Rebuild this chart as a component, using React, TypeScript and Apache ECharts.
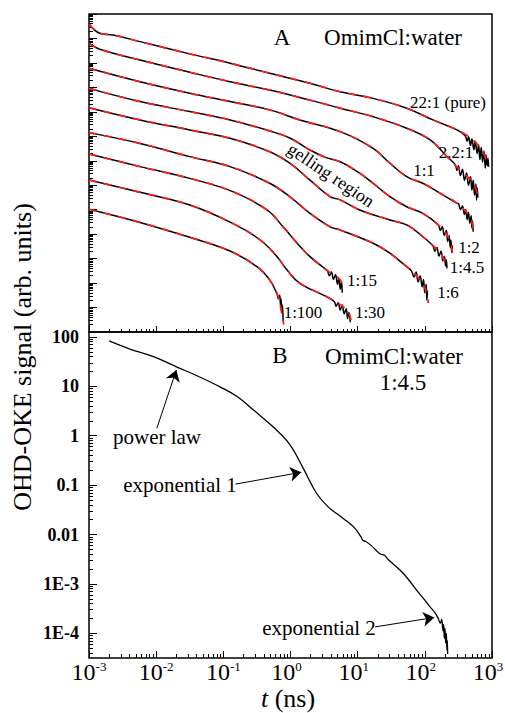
import React, { useEffect, useRef } from 'react';
import * as echarts from 'echarts';

// ---------- data (log10 units) ----------
const xTickExps = [-3, -2, -1, 0, 1, 2, 3];
const yTickExpsB = [2, 1, 0, -1, -2, -3, -4];
const yTickLabelsB = ['100', '10', '1', '0.1', '0.01', '1E-3', '1E-4'];

const sampleLabels = ['22:1 (pure)', '2.2:1', '1:1', '1:2', '1:4.5', '1:6', '1:15', '1:30', '1:100'];

// Panel A: fitted curves  [log10 t (ns), log10 signal (offset, arb. units)]
const fit_22_1 = [[-3.0, 12.59], [-2.84, 12.21], [-2.64, 12.14], [-2.24, 11.87], [-1.5, 11.37], [-0.9, 10.99], [-0.31, 10.58], [0.29, 10.17], [0.74, 9.82], [1.23, 9.55], [1.73, 9.15], [2.12, 8.67], [2.48, 8.26], [2.72, 7.85], [2.87, 7.31], [2.95, 6.8]];
const fit_2_2_1 = [[-3.0, 11.8], [-2.84, 11.56], [-2.24, 11.12], [-1.5, 10.62], [-0.9, 10.23], [-0.31, 9.89], [0.29, 9.48], [0.74, 9.15], [1.23, 8.8], [1.73, 8.33], [2.08, 7.85], [2.33, 7.17], [2.52, 6.63], [2.72, 6.08], [2.79, 5.53]];
const fit_1_1 = [[-3.0, 10.78], [-2.24, 10.23], [-1.5, 9.76], [-0.9, 9.42], [-0.31, 9.08], [0.14, 8.67], [0.74, 8.19], [1.23, 7.51], [1.48, 6.9], [1.73, 6.35], [1.97, 6.08], [2.23, 5.67], [2.48, 5.26], [2.67, 4.71], [2.72, 4.17]];
const fit_1_2 = [[-3.0, 9.96], [-2.24, 9.42], [-1.5, 9.01], [-0.9, 8.67], [-0.31, 8.22], [-0.01, 7.93], [0.29, 7.44], [0.51, 7.15], [0.74, 6.96], [1.03, 6.49], [1.23, 6.08], [1.48, 5.53], [1.73, 5.12], [1.97, 4.85], [2.23, 4.3], [2.37, 3.76], [2.41, 3.23]];
const fit_1_4_5 = [[-3.0, 9.17], [-2.24, 8.67], [-1.5, 8.26], [-0.9, 7.92], [-0.31, 7.37], [-0.01, 6.9], [0.29, 6.21], [0.59, 5.53], [0.74, 5.4], [1.03, 4.99], [1.48, 4.58], [1.73, 4.38], [1.97, 3.9], [2.23, 3.22], [2.33, 2.67]];
const fit_1_6 = [[-3.0, 8.15], [-2.24, 7.71], [-1.5, 7.17], [-0.9, 6.76], [-0.31, 6.08], [-0.01, 5.53], [0.29, 4.85], [0.59, 4.3], [0.74, 4.17], [1.23, 3.63], [1.48, 3.22], [1.73, 2.67], [1.93, 2.13], [2.03, 1.58], [2.05, 1.19]];
const fit_1_15 = [[-3.0, 7.28], [-2.24, 6.76], [-1.5, 6.28], [-0.86, 5.74], [-0.35, 4.99], [-0.11, 4.3], [0.1, 3.63], [0.29, 3.08], [0.54, 2.53], [0.74, 2.13], [0.78, 1.72]];
const fit_1_30 = [[-3.0, 6.21], [-2.24, 5.71], [-1.5, 5.19], [-0.86, 4.44], [-0.45, 3.76], [-0.2, 3.08], [-0.05, 2.53], [0.14, 1.99], [0.54, 1.44], [0.84, 0.9], [0.9, 0.49]];
const fit_1_100 = [[-3.0, 5.02], [-2.24, 4.48], [-1.5, 3.87], [-0.9, 3.31], [-0.5, 2.67], [-0.31, 2.13], [-0.19, 1.51], [-0.14, 0.9], [-0.1, 0.3]];

// Panel A: noisy long-time tails of the measured data
const tail_22_1 = [[2.6, 8.02], [2.63, 7.8], [2.65, 7.98], [2.68, 7.62], [2.7, 7.9], [2.73, 7.45], [2.75, 7.8], [2.78, 7.3], [2.8, 7.65], [2.82, 7.05], [2.84, 7.55], [2.86, 6.95], [2.88, 7.4], [2.9, 6.7], [2.91, 7.25], [2.93, 6.8], [2.94, 7.1], [2.95, 6.75]];
const tail_2_2_1 = [[2.45, 6.85], [2.48, 6.6], [2.5, 6.8], [2.53, 6.4], [2.56, 6.65], [2.59, 6.2], [2.62, 6.5], [2.65, 6.0], [2.68, 6.35], [2.7, 5.8], [2.72, 6.2], [2.74, 5.6], [2.76, 6.05], [2.77, 5.4], [2.78, 5.9], [2.79, 5.5]];
const tail_1_1 = [[2.5, 5.25], [2.53, 5.0], [2.56, 5.15], [2.59, 4.8], [2.61, 5.0], [2.63, 4.6], [2.65, 4.9], [2.67, 4.45], [2.69, 4.75], [2.7, 4.25], [2.71, 4.55], [2.72, 4.1]];
const tail_1_2 = [[2.2, 4.38], [2.23, 4.15], [2.26, 4.3], [2.29, 3.95], [2.32, 4.15], [2.34, 3.7], [2.36, 3.95], [2.38, 3.45], [2.39, 3.75], [2.4, 3.25], [2.41, 3.55]];
const tail_1_4_5 = [[2.12, 3.52], [2.15, 3.3], [2.18, 3.45], [2.21, 3.1], [2.24, 3.3], [2.27, 2.9], [2.29, 3.1], [2.31, 2.7], [2.32, 2.95], [2.33, 2.6]];
const tail_1_6 = [[1.8, 2.5], [1.84, 2.25], [1.87, 2.45], [1.9, 2.05], [1.93, 2.3], [1.96, 1.85], [1.98, 2.15], [2.0, 1.6], [2.02, 1.95], [2.03, 1.3], [2.04, 1.7]];
const tail_1_15 = [[0.55, 2.52], [0.58, 2.3], [0.61, 2.45], [0.64, 2.15], [0.67, 2.35], [0.7, 1.95], [0.72, 2.2], [0.74, 1.75], [0.76, 2.05], [0.77, 1.6]];
const tail_1_30 = [[0.65, 1.25], [0.68, 1.05], [0.71, 1.2], [0.74, 0.9], [0.77, 1.1], [0.8, 0.75], [0.83, 0.95], [0.85, 0.55], [0.87, 0.8], [0.89, 0.4]];
const tail_1_100 = [[-0.2, 1.55], [-0.18, 1.35], [-0.16, 1.5], [-0.15, 1.1], [-0.14, 1.35], [-0.13, 0.8], [-0.12, 1.1], [-0.11, 0.45]];

const fitsA = [fit_22_1, fit_2_2_1, fit_1_1, fit_1_2, fit_1_4_5, fit_1_6, fit_1_15, fit_1_30, fit_1_100];
const tailsA = [tail_22_1, tail_2_2_1, tail_1_1, tail_1_2, tail_1_4_5, tail_1_6, tail_1_15, tail_1_30, tail_1_100];

// Panel B: OmimCl:water 1:4.5  [log10 t (ns), log10 signal]
const dataB_1_4_5 = [[-2.7, 1.92], [-2.4, 1.76], [-2.04, 1.6], [-1.69, 1.39], [-1.4, 1.22], [-1.05, 0.99], [-0.8, 0.8], [-0.55, 0.52], [-0.26, 0.18], [-0.02, -0.16], [0.19, -0.66], [0.39, -1.17], [0.56, -1.44], [0.79, -1.68], [0.95, -1.86], [1.05, -2.05], [1.08, -2.12], [1.12, -2.14], [1.2, -2.22], [1.33, -2.39], [1.4, -2.42], [1.45, -2.5], [1.63, -2.72], [1.75, -2.9], [1.88, -3.13], [2.0, -3.33], [2.08, -3.47], [2.15, -3.58], [2.2, -3.7], [2.23, -3.8], [2.25, -3.72], [2.27, -3.95], [2.28, -3.82], [2.29, -4.1], [2.3, -3.9], [2.31, -4.2], [2.32, -4.0], [2.33, -4.35], [2.335, -4.15], [2.34, -4.42]];

// Panel B arrows [from, to] in [log10 t, log10 signal]
const arrowPowerLaw = [[-1.99, 0.15], [-1.7, 1.33]];
const arrowExp1 = [[-0.82, -0.98], [0.16, -0.74]];
const arrowExp2 = [[1.26, -3.87], [2.14, -3.68]];

// ---------- helpers ----------
const FONT = 'Liberation Serif';

function majorTicks(lo: number, hi: number): number[] {
  const out: number[] = [];
  for (let d = Math.ceil(lo); d <= Math.floor(hi); d++) out.push(d);
  return out;
}
function minorTicks(lo: number, hi: number): number[] {
  const out: number[] = [];
  for (let d = Math.floor(lo) - 1; d <= Math.ceil(hi); d++) {
    for (let k = 2; k <= 9; k++) {
      const v = d + Math.log10(k);
      if (v > lo + 1e-6 && v < hi - 1e-6) out.push(+v.toFixed(5));
    }
  }
  return out;
}

function axis(dim: 'x' | 'y', gridIndex: number, min: number, max: number, ticks: number[], len: number, label?: any) {
  return {
    type: 'value',
    gridIndex,
    position: dim === 'x' ? 'bottom' : 'left',
    min,
    max,
    axisLine: { show: false, onZero: false },
    splitLine: { show: false },
    axisTick: { show: true, inside: true, length: len, customValues: ticks, lineStyle: { color: '#000', width: 1 } },
    axisLabel: label ? label : { show: false },
  };
}

function txt(text: string, x: number, y: number, size: number, extra: any = {}, style: any = {}) {
  return {
    type: 'text',
    x,
    y,
    silent: true,
    ...extra,
    style: {
      text,
      fill: '#000',
      fontSize: size,
      fontFamily: FONT,
      align: 'center',
      verticalAlign: 'middle',
      textAlign: 'center',
      textVerticalAlign: 'middle',
      ...style,
    },
  };
}

const sampleLabelPos = [
  [448, 102], [456, 152], [424, 170], [469, 247], [467, 267], [448, 292], [362, 280], [370, 312], [303, 312],
];

export default function App() {
  const ref = useRef<HTMLDivElement>(null);
  useEffect(() => {
    if (!ref.current) return;
    const chart = echarts.init(ref.current, undefined, { renderer: 'svg' });

    const series: any[] = [];
    fitsA.forEach((fit, i) => {
      const tail = tailsA[i];
      const body = fit.filter((p) => p[0] < tail[0][0]);
      series.push({
        type: 'line', xAxisIndex: 0, yAxisIndex: 0, data: body.concat(tail),
        symbol: 'none', showSymbol: false, smooth: 0.4, silent: true,
        lineStyle: { color: '#000', width: 1.5 }, z: 2,
      });
    });
    fitsA.forEach((fit) => {
      series.push({
        type: 'line', xAxisIndex: 0, yAxisIndex: 0, data: fit,
        symbol: 'none', showSymbol: false, smooth: 0.4, silent: true,
        lineStyle: { color: '#ff1a1a', width: 1.7, type: [8, 7] }, z: 3,
      });
    });
    const arrows = [arrowPowerLaw, arrowExp1, arrowExp2];
    series.push({
      type: 'line', xAxisIndex: 2, yAxisIndex: 2, data: dataB_1_4_5,
      symbol: 'none', showSymbol: false, smooth: 0.4, silent: true,
      lineStyle: { color: '#000', width: 1.3 }, z: 2,
      markLine: {
        silent: true,
        symbol: ['none', 'arrow'],
        symbolSize: 11,
        label: { show: false },
        lineStyle: { color: '#000', width: 1, type: 'solid' },
        emphasis: { disabled: true },
        data: arrows.map((a) => [{ coord: a[0] }, { coord: a[1] }]),
      },
    });

    const xLabelB = {
      show: true,
      customValues: xTickExps,
      margin: 2,
      color: '#000',
      formatter: (v: number) => {
        const e = Math.round(v);
        return e < 0 ? `{b|10}{s|${e}}` : `{b|10}{p|${e}}`;
      },
      rich: {
        b: { fontFamily: FONT, fontSize: 24, color: '#000', lineHeight: 24, verticalAlign: 'bottom' },
        s: { fontFamily: FONT, fontSize: 13, color: '#000', lineHeight: 13, verticalAlign: 'top' },
        p: { fontFamily: FONT, fontSize: 13, color: '#000', lineHeight: 13, verticalAlign: 'top', padding: [0, 8, 0, 0] },
      },
    };
    const yLabelB = {
      show: true,
      customValues: yTickExpsB,
      margin: 10,
      color: '#000',
      fontFamily: FONT,
      fontWeight: 'bold',
      fontSize: 18,
      formatter: (v: number) => yTickLabelsB[yTickExpsB.indexOf(Math.round(v))] ?? '',
    };

    const gridBase = { show: true, borderColor: '#000', borderWidth: 1.5, backgroundColor: 'transparent', outerBoundsMode: 'none' };

    const option: any = {
      animation: false,
      backgroundColor: '#fff',
      grid: [
        { ...gridBase, left: 89, top: 14, width: 403, height: 318 },
        { ...gridBase, left: 89, top: 332, width: 403, height: 326 },
      ],
      xAxis: [
        axis('x', 0, -3, 3, majorTicks(-3, 3), 6),
        axis('x', 0, -3, 3, minorTicks(-3, 3), 3),
        axis('x', 1, -3, 3, majorTicks(-3, 3), 7, xLabelB),
        axis('x', 1, -3, 3, minorTicks(-3, 3), 4),
      ],
      yAxis: [
        axis('y', 0, 0, 13, majorTicks(0, 13), 8),
        axis('y', 0, 0, 13, minorTicks(0, 13), 4),
        axis('y', 1, -4.5, 2.1, majorTicks(-4.5, 2.1), 8, yLabelB),
        axis('y', 1, -4.5, 2.1, minorTicks(-4.5, 2.1), 4),
      ],
      series,
      graphic: {
        elements: [
          txt('A', 282, 37, 23),
          txt('OmimCl:water', 393, 37, 23),
          ...sampleLabels.map((s, i) => txt(s, sampleLabelPos[i][0], sampleLabelPos[i][1], 17)),
          txt('gelling region', 331, 175, 18, { rotation: (-34 * Math.PI) / 180 }),
          txt('B', 280, 355, 23),
          txt('OmimCl:water', 394, 356, 23),
          txt('1:4.5', 403, 382, 23),
          txt('power law', 157, 437, 21),
          txt('exponential 1', 180, 485, 21),
          txt('exponential 2', 319, 628, 21),
          txt('OHD-OKE signal (arb. units)', 22, 357, 26, { rotation: Math.PI / 2 }),
          txt('{i|t} (ns)', 288, 698, 26, {}, {
            rich: { i: { fontStyle: 'italic', fontFamily: FONT, fontSize: 26, fill: '#000' } },
          }),
        ],
      },
    };
    chart.setOption(option);
    return () => chart.dispose();
  }, []);

  return (
    <div
      ref={ref}
      style={{ position: 'fixed', left: 0, top: 0, width: 505, height: 713, background: '#fff' }}
    />
  );
}
